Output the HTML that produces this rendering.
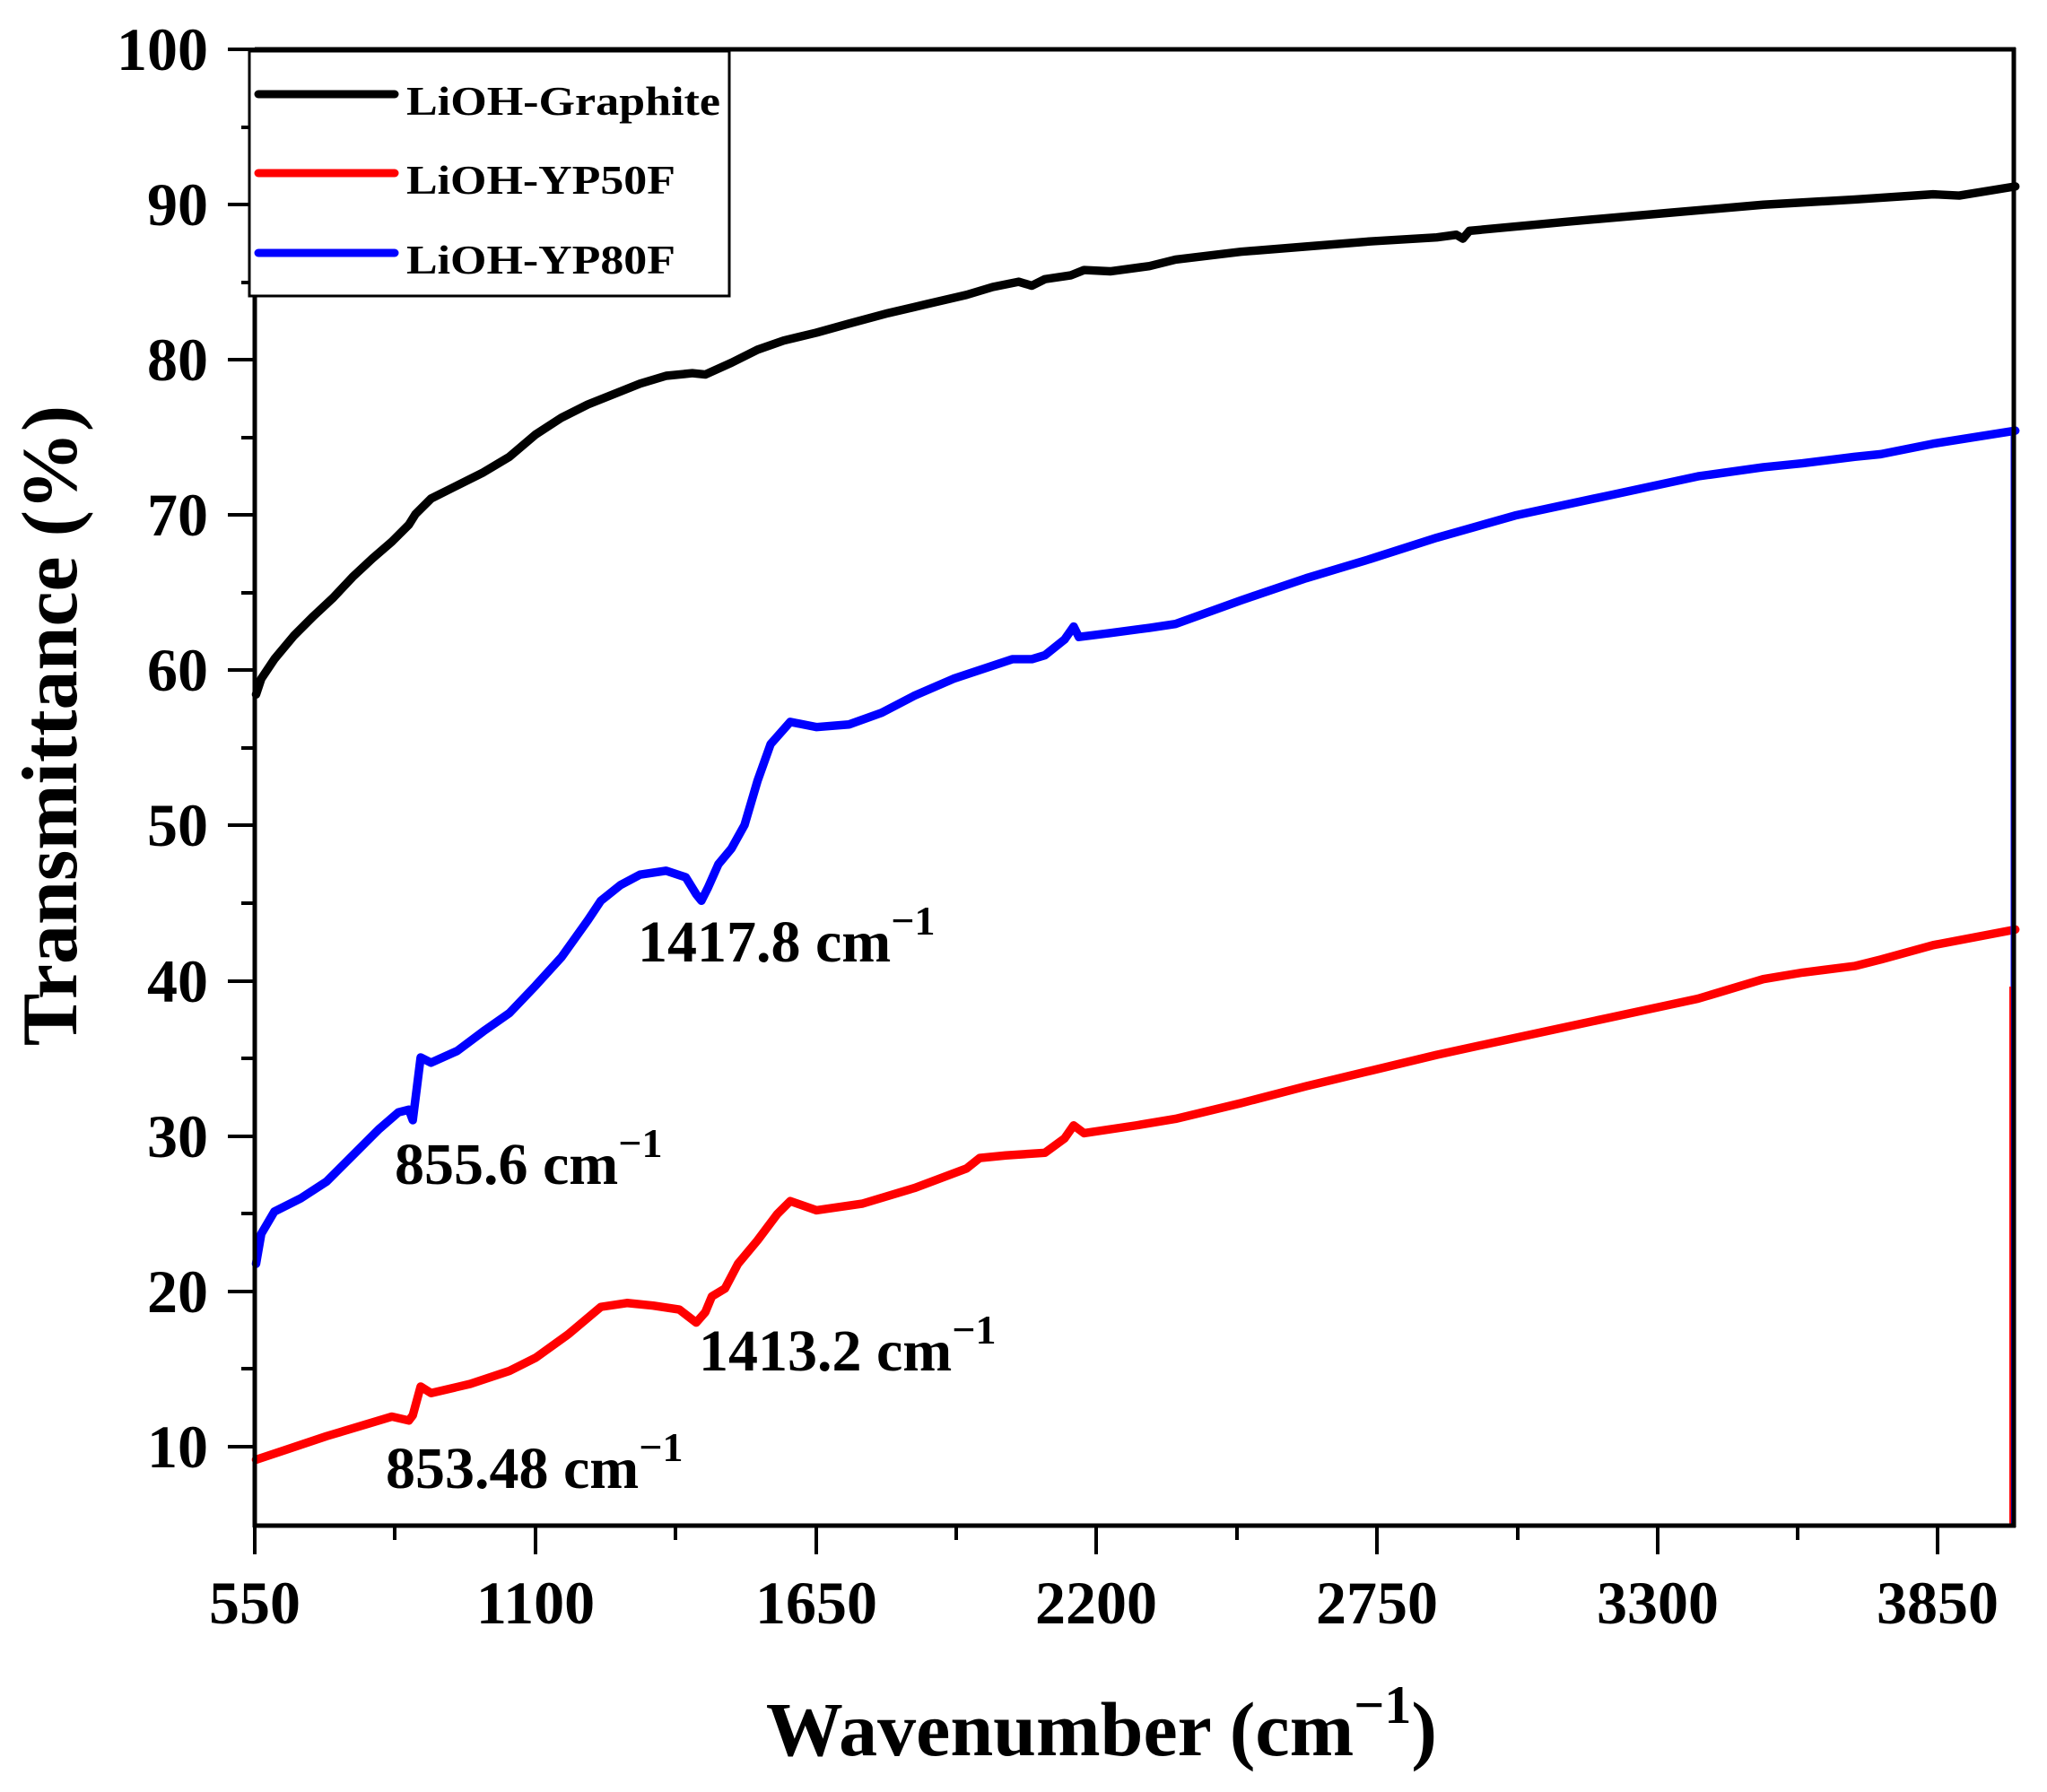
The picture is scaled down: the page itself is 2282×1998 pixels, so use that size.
<!DOCTYPE html>
<html><head><meta charset="utf-8"><style>
html,body{margin:0;padding:0;background:#fff;}
svg{display:block;}
text{font-family:"Liberation Serif",serif;font-weight:bold;fill:#000;}
</style></head><body>
<svg width="2282" height="1998" viewBox="0 0 2282 1998" xmlns="http://www.w3.org/2000/svg">
<rect width="2282" height="1998" fill="#fff"/>
<g transform="translate(284,55) scale(1.456) translate(-195,-38)" fill="none" stroke-width="6.5" stroke-linejoin="round" stroke-linecap="round">
<polyline stroke="#000" points="196,532 200,520 210,505 225,487 240,472 255,458 270,442 285,428 300,415 313,402 318,394 330,382 350,372 370,362 390,350 410,333 430,320 450,310 470,302 490,294 510,288 530,286 540,287 560,278 580,268 600,261 625,255 650,248 680,240 710,233 740,226 760,220 780,216 790,219 800,214 820,211 830,207 850,208 880,204 900,199 950,193 1000,189 1050,185 1100,182 1115,180 1120,183 1125,177 1200,170 1280,163 1350,157 1420,153 1480,149 1500,150 1543,143"/>
<polyline stroke="#0000ff" points="196,968 200,945 210,928 230,918 250,905 270,885 290,865 305,852 313,850 316,858 322,810 330,814 350,805 370,790 390,776 410,755 430,733 450,705 460,690 475,678 490,670 510,667 525,672 533,685 537,690 542,680 550,662 560,650 570,632 580,598 590,570 605,553 625,557 650,555 675,546 700,533 730,520 760,510 775,505 790,505 800,502 815,490 822,480 826,488 850,485 880,481 900,478 950,460 1000,443 1050,428 1100,412 1160,395 1230,380 1300,365 1350,358 1380,355 1420,350 1440,348 1480,340 1543,330"/>
<polyline stroke="#ff0000" points="196,1118 220,1110 250,1100 280,1091 300,1085 313,1088 316,1084 322,1062 330,1067 360,1060 390,1050 410,1040 435,1022 460,1001 480,998 500,1000 520,1003 533,1013 540,1005 545,993 555,987 565,968 580,950 595,930 605,920 625,927 660,922 700,910 740,895 750,887 770,885 800,883 815,872 822,862 830,868 870,862 900,857 950,845 1000,832 1050,820 1100,808 1160,795 1230,780 1300,765 1350,750 1380,745 1420,740 1440,735 1480,724 1543,712"/>
</g>
<line x1="2243" y1="485" x2="2243" y2="1700" stroke="#0000ff" stroke-width="3"/>
<line x1="2241" y1="1100" x2="2241" y2="1700" stroke="#ff0000" stroke-width="2"/>
<line x1="2245" y1="208" x2="2245" y2="1700" stroke="#000" stroke-width="4"/>
<g stroke="#000" stroke-width="5" fill="none">
<line x1="284" y1="55" x2="2247" y2="55"/>
<line x1="284" y1="1701" x2="2247" y2="1701"/>
<line x1="284" y1="53" x2="284" y2="1703"/>
<line x1="2245" y1="53" x2="2245" y2="1703"/>
</g>
<g stroke="#000" stroke-width="4">
<line x1="254" y1="55" x2="284" y2="55"/><line x1="254" y1="228" x2="284" y2="228"/><line x1="254" y1="401" x2="284" y2="401"/><line x1="254" y1="574" x2="284" y2="574"/><line x1="254" y1="747" x2="284" y2="747"/><line x1="254" y1="920" x2="284" y2="920"/><line x1="254" y1="1094" x2="284" y2="1094"/><line x1="254" y1="1267" x2="284" y2="1267"/><line x1="254" y1="1440" x2="284" y2="1440"/><line x1="254" y1="1613" x2="284" y2="1613"/>
<line x1="269" y1="142" x2="284" y2="142"/><line x1="269" y1="315" x2="284" y2="315"/><line x1="269" y1="488" x2="284" y2="488"/><line x1="269" y1="661" x2="284" y2="661"/><line x1="269" y1="834" x2="284" y2="834"/><line x1="269" y1="1007" x2="284" y2="1007"/><line x1="269" y1="1180" x2="284" y2="1180"/><line x1="269" y1="1353" x2="284" y2="1353"/><line x1="269" y1="1526" x2="284" y2="1526"/>
<line x1="284" y1="1701" x2="284" y2="1733"/><line x1="597" y1="1701" x2="597" y2="1733"/><line x1="910" y1="1701" x2="910" y2="1733"/><line x1="1222" y1="1701" x2="1222" y2="1733"/><line x1="1535" y1="1701" x2="1535" y2="1733"/><line x1="1848" y1="1701" x2="1848" y2="1733"/><line x1="2160" y1="1701" x2="2160" y2="1733"/>
<line x1="440" y1="1701" x2="440" y2="1717"/><line x1="753" y1="1701" x2="753" y2="1717"/><line x1="1066" y1="1701" x2="1066" y2="1717"/><line x1="1379" y1="1701" x2="1379" y2="1717"/><line x1="1692" y1="1701" x2="1692" y2="1717"/><line x1="2004" y1="1701" x2="2004" y2="1717"/>
</g>
<g font-size="68" text-anchor="end">
<text x="232" y="78">100</text><text x="232" y="251">90</text><text x="232" y="424">80</text><text x="232" y="597">70</text><text x="232" y="770">60</text><text x="232" y="943">50</text><text x="232" y="1117">40</text><text x="232" y="1290">30</text><text x="232" y="1463">20</text><text x="232" y="1636">10</text>
</g>
<g font-size="68" text-anchor="middle">
<text x="284" y="1810">550</text><text x="597" y="1810">1100</text><text x="910" y="1810">1650</text><text x="1222" y="1810">2200</text><text x="1535" y="1810">2750</text><text x="1848" y="1810">3300</text><text x="2160" y="1810">3850</text>
</g>
<text x="1228" y="1957" font-size="86" text-anchor="middle">Wavenumber (cm<tspan font-size="60" dy="-36">−1</tspan><tspan dy="36">)</tspan></text>
<text transform="translate(85,809) rotate(-90)" font-size="88" text-anchor="middle">Transmittance (%)</text>
<g font-size="66">
<text x="711" y="1072">1417.8 cm<tspan font-size="46" dy="-30">−1</tspan></text>
<text x="440" y="1320">855.6 cm<tspan font-size="46" dy="-30">−1</tspan></text>
<text x="779" y="1528">1413.2 cm<tspan font-size="46" dy="-30">−1</tspan></text>
<text x="430" y="1659">853.48 cm<tspan font-size="46" dy="-30">−1</tspan></text>
</g>
<rect x="278" y="57" width="535" height="273" fill="#fff" stroke="#000" stroke-width="3"/>
<g stroke-width="9" stroke-linecap="round">
<line x1="288" y1="105" x2="440" y2="105" stroke="#000"/>
<line x1="288" y1="193" x2="440" y2="193" stroke="#ff0000"/>
<line x1="288" y1="282" x2="440" y2="282" stroke="#0000ff"/>
</g>
<g font-size="46">
<text x="453" y="128" textLength="350" lengthAdjust="spacingAndGlyphs">LiOH-Graphite</text>
<text x="453" y="216" textLength="300" lengthAdjust="spacingAndGlyphs">LiOH-YP50F</text>
<text x="453" y="305" textLength="300" lengthAdjust="spacingAndGlyphs">LiOH-YP80F</text>
</g>
</svg>
</body></html>
